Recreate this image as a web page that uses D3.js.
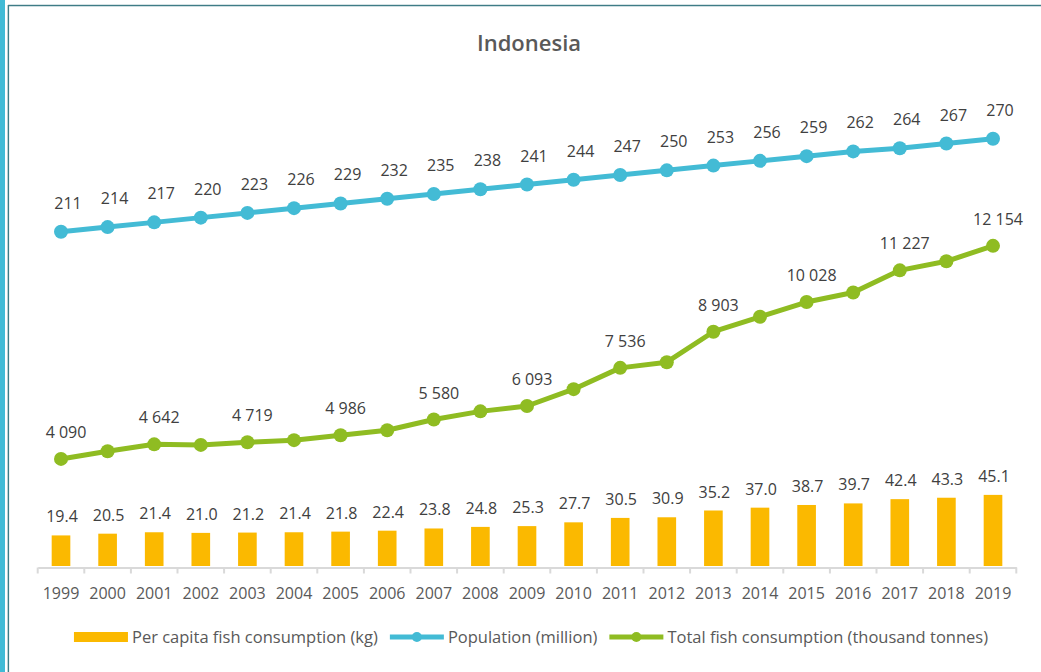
<!DOCTYPE html>
<html>
<head>
<meta charset="utf-8">
<script src="https://cdn.jsdelivr.net/npm/d3@7"></script>
<style>
  html, body { margin: 0; padding: 0; background: #fff; }
  svg { display: block; font-family: "Open Sans", Lato, sans-serif; }
  .val { fill: #404040; font-size: 16px; }
  .year { fill: #595959; font-size: 16px; }
  .leg { fill: #595959; font-size: 16.5px; }
</style>
</head>
<body>
<div id="chart"></div>
<script>
// categories
var years = ["1999", "2000", "2001", "2002", "2003", "2004", "2005", "2006", "2007", "2008",
	"2009", "2010", "2011", "2012", "2013", "2014", "2015", "2016", "2017", "2018", "2019"];

// Per capita fish consumption (kg) - bars
var perCapita = [19.4, 20.5, 21.4, 21.0, 21.2, 21.4, 21.8, 22.4, 23.8, 24.8,
	25.3, 27.7, 30.5, 30.9, 35.2, 37.0, 38.7, 39.7, 42.4, 43.3, 45.1];

// Population (million)
var population = [211, 214, 217, 220, 223, 226, 229, 232, 235, 238,
	241, 244, 247, 250, 253, 256, 259, 262, 264, 267, 270];

// Total fish consumption (thousand tonnes), unlabelled years
var totalFish = [4090, 4380, 4642, 4620, 4719, 4800, 4986, 5175, 5580, 5890,
	6093, 6730, 7536, 7750, 8903, 9470, 10028, 10390, 11227, 11570, 12154];

// only these years carry a label on the green line
var totalLabelYears = ["1999", "2001", "2003", "2005", "2007", "2009", "2011", "2013", "2015", "2017", "2019"];

var legendItems = [
	{ key: "bar", label: "Per capita fish consumption (kg)" },
	{ key: "pop", label: "Population (million)" },
	{ key: "total", label: "Total fish consumption (thousand tonnes)" }
];

var colors = { bar: "#FBB900", pop: "#43BBD5", total: "#8FBC22" };

var W = 1041, H = 672;
var plot = { left: 37.7, right: 1016.3, top: 93, bottom: 566 };

var svg = d3.select("#chart").append("svg")
	.attr("width", W)
	.attr("height", H);

// frame: cyan strip on the left, teal lines top and left
svg.append("rect").attr("x", 0).attr("y", 0).attr("width", 5).attr("height", H).attr("fill", "#41BBD6");
svg.append("line").attr("x1", 7.5).attr("x2", 7.5).attr("y1", 5).attr("y2", H).attr("stroke", "#c9dde0").attr("stroke-width", 1);
svg.append("line").attr("x1", 8.5).attr("x2", 8.5).attr("y1", 5).attr("y2", H).attr("stroke", "#3e7c86").attr("stroke-width", 1.2);
svg.append("line").attr("x1", 8).attr("x2", W).attr("y1", 4.5).attr("y2", 4.5).attr("stroke", "#d5e2e4").attr("stroke-width", 1);
svg.append("line").attr("x1", 8).attr("x2", W).attr("y1", 5.6).attr("y2", 5.6).attr("stroke", "#3e7c86").attr("stroke-width", 1.3);

// title
svg.append("text")
	.attr("x", 529).attr("y", 51)
	.attr("text-anchor", "middle")
	.attr("fill", "#595959")
	.attr("font-size", "22px")
	.attr("font-weight", 600)
	.text("Indonesia");

// scales (each series has its own hidden axis, all starting at zero)
var x = d3.scaleBand().domain(years).range([plot.left, plot.right]).padding(0);
var yBar = d3.scaleLinear().domain([0, 300]).range([plot.bottom, plot.top]);
var yPop = d3.scaleLinear().domain([0, 300]).range([plot.bottom - 1.5, plot.top - 1.5]);
var yTotal = d3.scaleLinear().domain([0, 17900]).range([plot.bottom + 1, plot.top + 1]);

var cx = function(i) { return x(years[i]) + x.bandwidth() / 2; };
var fmtSpace = function(v) { return d3.format(",")(v).replace(/,/g, " "); };

// bars
var barW = x.bandwidth() * 0.4;
svg.append("g").selectAll("rect")
	.data(perCapita)
	.join("rect")
		.attr("x", function(d, i) { return cx(i) - barW / 2; })
		.attr("y", function(d) { return yBar(d); })
		.attr("width", barW)
		.attr("height", function(d) { return yBar(0) - yBar(d); })
		.attr("fill", colors.bar);

svg.append("g").selectAll("text")
	.data(perCapita)
	.join("text")
		.attr("class", "val")
		.attr("x", function(d, i) { return cx(i) + 1; })
		.attr("y", function(d) { return yBar(d) - 13; })
		.attr("text-anchor", "middle")
		.text(function(d) { return d.toFixed(1); });

// x axis line with ticks between categories
var axis = d3.axisBottom(x).tickSize(0).tickPadding(0);
var gx = svg.append("g")
	.attr("transform", "translate(0," + (plot.bottom + 1.5) + ")")
	.call(axis);
gx.select(".domain").attr("stroke", "#D9D9D9").attr("stroke-width", 2);
gx.selectAll(".tick text").remove();
gx.selectAll(".tick line").remove();

var bounds = years.map(function(y) { return x(y); }).concat([plot.right]);
gx.selectAll(".sep")
	.data(bounds)
	.join("line")
		.attr("class", "sep")
		.attr("x1", function(d) { return d; })
		.attr("x2", function(d) { return d; })
		.attr("y1", 0)
		.attr("y2", 6)
		.attr("stroke", "#D9D9D9")
		.attr("stroke-width", 2);

svg.append("g").selectAll("text")
	.data(years)
	.join("text")
		.attr("class", "year")
		.attr("x", function(d, i) { return cx(i); })
		.attr("y", 599)
		.attr("text-anchor", "middle")
		.text(function(d) { return d; });

// lines with markers
function drawLine(values, yScale, color, labelFilter, labelDx, labelDy) {
	var line = d3.line()
		.x(function(d, i) { return cx(i); })
		.y(function(d) { return yScale(d); });

	var g = svg.append("g");
	g.append("path")
		.datum(values)
		.attr("d", line)
		.attr("fill", "none")
		.attr("stroke", color)
		.attr("stroke-width", 5)
		.attr("stroke-linejoin", "round");

	g.selectAll("circle")
		.data(values)
		.join("circle")
			.attr("cx", function(d, i) { return cx(i); })
			.attr("cy", function(d) { return yScale(d); })
			.attr("r", 7)
			.attr("fill", color);

	g.selectAll("text")
		.data(values.map(function(v, i) { return { v: v, i: i }; }).filter(labelFilter))
		.join("text")
			.attr("class", "val")
			.attr("x", function(d) { return cx(d.i) + labelDx; })
			.attr("y", function(d) { return yScale(d.v) - labelDy; })
			.attr("text-anchor", "middle")
			.text(function(d) { return fmtSpace(d.v); });
}

drawLine(totalFish, yTotal, colors.total,
	function(d) { return totalLabelYears.indexOf(years[d.i]) >= 0; }, 5, 21);
drawLine(population, yPop, colors.pop,
	function() { return true; }, 7, 23);

// legend
var leg = svg.append("g").attr("transform", "translate(0,637)");
var swatchW = 54;
var items = leg.selectAll("g")
	.data(legendItems)
	.join("g");

items.append("text")
	.attr("class", "leg")
	.attr("y", 6)
	.text(function(d) { return d.label; });

var widths = [];
items.select("text").each(function() { widths.push(this.getComputedTextLength()); });
var gap = 12, pad = 4;
var total = d3.sum(widths) + legendItems.length * (swatchW + pad) + gap * (legendItems.length - 1);
var pos = 531 - total / 2;

items.each(function(d, i) {
	var it = d3.select(this);
	it.attr("transform", "translate(" + pos + ",0)");
	if (d.key === "bar") {
		it.append("rect")
			.attr("x", 0).attr("y", -5)
			.attr("width", swatchW).attr("height", 10)
			.attr("fill", colors.bar);
	} else {
		it.append("line")
			.attr("x1", 0).attr("x2", swatchW)
			.attr("y1", 0).attr("y2", 0)
			.attr("stroke", colors[d.key])
			.attr("stroke-width", 5);
		it.append("circle")
			.attr("cx", swatchW / 2).attr("cy", 0).attr("r", 5)
			.attr("fill", colors[d.key]);
	}
	it.select("text").attr("x", swatchW + pad);
	pos += swatchW + pad + widths[i] + gap;
});
</script>
</body>
</html>
